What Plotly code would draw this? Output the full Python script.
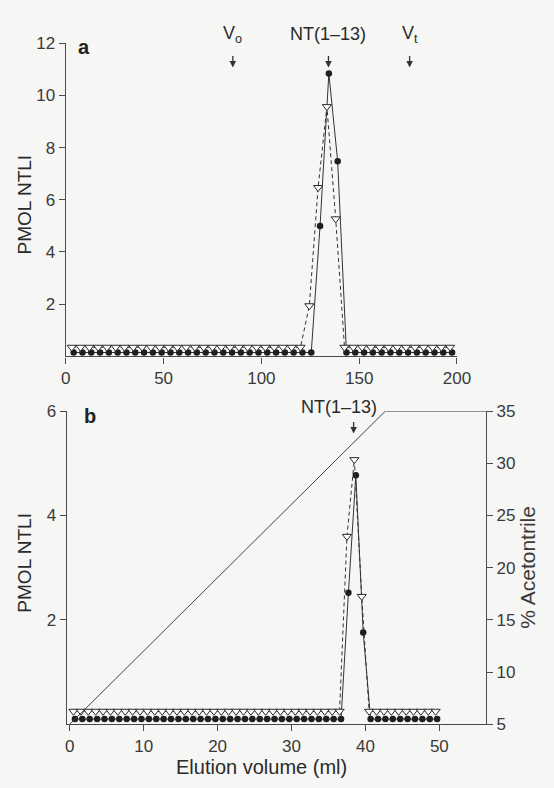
import plotly.graph_objects as go

W, H = 554, 788

# ---------------- Panel a (gel filtration) ----------------
a_tri_vol = [3, 7.5, 12, 16.5, 21, 25.5, 30, 34.5, 39, 43.5, 48, 52.5, 57, 61.5, 66, 70.5,
             75, 79.5, 84, 88.5, 93, 97.5, 102, 106.5, 111, 115.5, 120, 124.5, 129, 133.5,
             138, 142.5, 147, 151.5, 156, 160.5, 165, 169.5, 174, 178.5, 183, 187.5, 192,
             196.5]
a_tri_pmol = [0.35, 0.35, 0.35, 0.35, 0.35, 0.35, 0.35, 0.35, 0.35, 0.35, 0.35, 0.35, 0.35,
              0.35, 0.35, 0.35, 0.35, 0.35, 0.35, 0.35, 0.35, 0.35, 0.35, 0.35, 0.35, 0.35,
              0.35, 1.94, 6.47, 9.57, 5.27, 0.35, 0.35, 0.35, 0.35, 0.35, 0.35, 0.35, 0.35,
              0.35, 0.35, 0.35, 0.35, 0.35]
a_circ_vol = [4, 8.5, 13, 17.5, 22, 26.5, 31, 35.5, 40, 44.5, 49, 53.5, 58, 62.5, 67, 71.5,
              76, 80.5, 85, 89.5, 94, 98.5, 103, 107.5, 112, 116.5, 121, 125.5, 130, 134.5,
              139, 143.5, 148, 152.5, 157, 161.5, 166, 170.5, 175, 179.5, 184, 188.5, 193,
              197.5]
a_circ_pmol = [0.15, 0.15, 0.15, 0.15, 0.15, 0.15, 0.15, 0.15, 0.15, 0.15, 0.15, 0.15, 0.15,
               0.15, 0.15, 0.15, 0.15, 0.15, 0.15, 0.15, 0.15, 0.15, 0.15, 0.15, 0.15, 0.15,
               0.15, 0.15, 5.0, 10.84, 7.48, 0.15, 0.15, 0.15, 0.15, 0.15, 0.15, 0.15, 0.15,
               0.15, 0.15, 0.15, 0.15, 0.15]
a_xticks = [0, 50, 100, 150, 200]
a_yticks = [2, 4, 6, 8, 10, 12]
a_mark_labels = ["V<sub>o</sub>", "NT(1–13)", "V<sub>t</sub>"]
a_mark_vol = [85.4, 134.3, 175.8]

# ---------------- Panel b (HPLC) ----------------
b_tri_vol = [0.5, 1.5, 2.5, 3.5, 4.5, 5.5, 6.5, 7.5, 8.5, 9.5, 10.5, 11.5, 12.5, 13.5, 14.5,
             15.5, 16.5, 17.5, 18.5, 19.5, 20.5, 21.5, 22.5, 23.5, 24.5, 25.5, 26.5, 27.5,
             28.5, 29.5, 30.5, 31.5, 32.5, 33.5, 34.5, 35.5, 36.5, 37.5, 38.5, 39.5, 40.5,
             41.5, 42.5, 43.5, 44.5, 45.5, 46.5, 47.5, 48.5, 49.5]
b_tri_pmol = [0.25, 0.25, 0.25, 0.25, 0.25, 0.25, 0.25, 0.25, 0.25, 0.25, 0.25, 0.25, 0.25,
              0.25, 0.25, 0.25, 0.25, 0.25, 0.25, 0.25, 0.25, 0.25, 0.25, 0.25, 0.25, 0.25,
              0.25, 0.25, 0.25, 0.25, 0.25, 0.25, 0.25, 0.25, 0.25, 0.25, 0.25, 3.6, 5.07,
              2.45, 0.25, 0.25, 0.25, 0.25, 0.25, 0.25, 0.25, 0.25, 0.25, 0.25]
b_circ_vol = [0.7, 1.7, 2.7, 3.7, 4.7, 5.7, 6.7, 7.7, 8.7, 9.7, 10.7, 11.7, 12.7, 13.7, 14.7,
              15.7, 16.7, 17.7, 18.7, 19.7, 20.7, 21.7, 22.7, 23.7, 24.7, 25.7, 26.7, 27.7,
              28.7, 29.7, 30.7, 31.7, 32.7, 33.7, 34.7, 35.7, 36.7, 37.7, 38.7, 39.7, 40.7,
              41.7, 42.7, 43.7, 44.7, 45.7, 46.7, 47.7, 48.7, 49.7]
b_circ_pmol = [0.1, 0.1, 0.1, 0.1, 0.1, 0.1, 0.1, 0.1, 0.1, 0.1, 0.1, 0.1, 0.1, 0.1, 0.1,
               0.1, 0.1, 0.1, 0.1, 0.1, 0.1, 0.1, 0.1, 0.1, 0.1, 0.1, 0.1, 0.1, 0.1, 0.1,
               0.1, 0.1, 0.1, 0.1, 0.1, 0.1, 0.1, 2.52, 4.77, 1.76, 0.1, 0.1, 0.1, 0.1,
               0.1, 0.1, 0.1, 0.1, 0.1, 0.1]
b_grad_vol = [0, 42.7, 56.3]
b_grad_pct = [5, 35, 35]
b_xticks = [0, 10, 20, 30, 40, 50]
b_yticks = [2, 4, 6]
b_y2ticks = [5, 10, 15, 20, 25, 30, 35]
b_mark_labels = ["NT(1–13)"]
b_mark_vol = [38.4]

FONT = "Liberation Sans"
INK = "#3a3a3a"
LINE = "#4a4a4a"
BG = "#f6f6f4"


def px_x(p):
    return p / W


def px_y(p):
    return 1 - p / H


fig = go.Figure()

circ_marker = dict(symbol="circle", size=6.5, color="#1e1e1e", line=dict(width=0))
tri_marker = dict(symbol="triangle-down", size=8, color="#ffffff",
                  line=dict(width=1, color="#2a2a2a"))

# panel a
fig.add_trace(go.Scatter(x=a_circ_vol, y=a_circ_pmol, mode="lines+markers",
                         line=dict(color="#333", width=1), marker=circ_marker,
                         xaxis="x", yaxis="y", showlegend=False, cliponaxis=False))
fig.add_trace(go.Scatter(x=a_tri_vol, y=a_tri_pmol, mode="lines+markers",
                         line=dict(color="#333", width=1, dash="4px,3px"), marker=tri_marker,
                         xaxis="x", yaxis="y", showlegend=False, cliponaxis=False))
# panel b
fig.add_trace(go.Scatter(x=b_grad_vol, y=b_grad_pct, mode="lines",
                         line=dict(color="#444", width=1),
                         xaxis="x2", yaxis="y3", showlegend=False, cliponaxis=False))
fig.add_trace(go.Scatter(x=b_circ_vol, y=b_circ_pmol, mode="lines+markers",
                         line=dict(color="#333", width=1), marker=circ_marker,
                         xaxis="x2", yaxis="y2", showlegend=False, cliponaxis=False))
fig.add_trace(go.Scatter(x=b_tri_vol, y=b_tri_pmol, mode="lines+markers",
                         line=dict(color="#333", width=1, dash="4px,3px"), marker=tri_marker,
                         xaxis="x2", yaxis="y2", showlegend=False, cliponaxis=False))

axis_common = dict(showline=True, linecolor=LINE, linewidth=1.3, ticks="outside",
                   ticklen=6, tickwidth=1.3, tickcolor=LINE, showgrid=False,
                   zeroline=False, tickfont=dict(family=FONT, size=17, color=INK))

fig.update_layout(
    width=W, height=H, margin=dict(l=0, r=0, t=0, b=0),
    paper_bgcolor=BG, plot_bgcolor=BG,
    xaxis=dict(domain=[px_x(63), px_x(468)], range=[0, 200], anchor="y",
               tickvals=a_xticks, **axis_common),
    yaxis=dict(domain=[px_y(356), px_y(35)], range=[0, 12], anchor="x",
               tickvals=a_yticks, **axis_common),
    xaxis2=dict(domain=[px_x(64), px_x(498)], range=[-0.4, 56.3], anchor="y2",
                tickvals=b_xticks, **axis_common),
    yaxis2=dict(domain=[px_y(733), px_y(412)], range=[0, 6], anchor="x2",
                tickvals=b_yticks, **axis_common),
    yaxis3=dict(range=[5, 35], overlaying="y2", anchor="x2", side="right",
                tickvals=b_y2ticks, **axis_common),
)

ann = []


def text_at(text, xp, yp, size, color="#2a2a2a", angle=0):
    ann.append(dict(text=text, x=px_x(xp), y=px_y(yp), xref="paper", yref="paper",
                    xanchor="center", yanchor="middle", showarrow=False, textangle=angle,
                    font=dict(family=FONT, size=size, color=color)))


# panel letters
text_at("<b>a</b>", 82, 39, 20, "#222")
text_at("<b>b</b>", 88, 417, 20, "#222")
# axis titles
text_at("PMOL NTLI", 20, 200, 19, angle=-90)
text_at("PMOL NTLI", 20, 567, 19, angle=-90)
text_at("% Acetontrile", 541, 572, 21, INK, angle=-90)
text_at("Elution volume (ml)", 266, 777, 20)

# peak markers panel a
for lab, v in zip(a_mark_labels, a_mark_vol):
    ann.append(dict(text=lab, x=v, xref="x", y=px_y(26), yref="paper",
                    xanchor="center", yanchor="middle", showarrow=False,
                    font=dict(family=FONT, size=18, color="#2a2a2a")))
    ann.append(dict(text="", x=v, xref="x", y=px_y(60), yref="paper", showarrow=True,
                    ax=0, ay=-13, arrowhead=2, arrowsize=1, arrowwidth=1.3,
                    arrowcolor="#333"))
# peak marker panel b
for lab, v in zip(b_mark_labels, b_mark_vol):
    ann.append(dict(text=lab, x=v, xref="x2", xshift=-15, y=px_y(408), yref="paper",
                    xanchor="center", yanchor="middle", showarrow=False,
                    font=dict(family=FONT, size=18, color="#2a2a2a")))
    ann.append(dict(text="", x=v, xref="x2", y=px_y(435), yref="paper", showarrow=True,
                    ax=0, ay=-13, arrowhead=2, arrowsize=1, arrowwidth=1.3,
                    arrowcolor="#333"))

fig.update_layout(annotations=ann)
fig.write_html(
    "out.html",
    config={"displayModeBar": False},
    post_script="document.body.style.margin='0';document.body.style.overflow='hidden';",
)
